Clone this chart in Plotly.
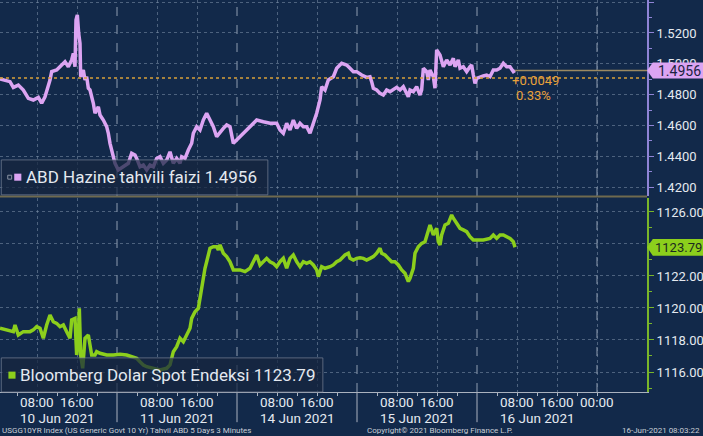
import plotly.graph_objects as go

# ---------------- data ----------------
us10_time = [
    "2021-06-10 00:36", "2021-06-10 02:36", "2021-06-10 03:16", "2021-06-10 04:16", "2021-06-10 05:16",
    "2021-06-10 06:16", "2021-06-10 07:16", "2021-06-10 08:16", "2021-06-10 08:56", "2021-06-10 09:36",
    "2021-06-10 10:36", "2021-06-10 10:56", "2021-06-10 11:56", "2021-06-10 12:56", "2021-06-10 13:36",
    "2021-06-10 14:16", "2021-06-10 14:56", "2021-06-10 15:16", "2021-06-10 15:36", "2021-06-10 15:48",
    "2021-06-10 16:04", "2021-06-10 16:20", "2021-06-10 16:36", "2021-06-10 16:44", "2021-06-10 17:16",
    "2021-06-10 17:36", "2021-06-10 17:56", "2021-06-10 18:16", "2021-06-10 18:36", "2021-06-10 19:16",
    "2021-06-10 19:36", "2021-06-10 20:16", "2021-06-10 20:36", "2021-06-10 21:16", "2021-06-10 21:56",
    "2021-06-10 22:16", "2021-06-10 22:36", "2021-06-10 23:16", "2021-06-10 23:36", "2021-06-11 00:16",
    "2021-06-11 01:16", "2021-06-11 02:16", "2021-06-11 02:56", "2021-06-11 03:36", "2021-06-11 03:56",
    "2021-06-11 04:36", "2021-06-11 05:16", "2021-06-11 05:56", "2021-06-11 06:36", "2021-06-11 07:16",
    "2021-06-11 07:56", "2021-06-11 08:36", "2021-06-11 09:16", "2021-06-11 09:56", "2021-06-11 10:36",
    "2021-06-11 11:16", "2021-06-11 11:56", "2021-06-11 12:36", "2021-06-11 12:56", "2021-06-11 13:36",
    "2021-06-11 14:16", "2021-06-11 14:56", "2021-06-11 15:16", "2021-06-11 15:56", "2021-06-11 16:36",
    "2021-06-11 17:16", "2021-06-11 17:56", "2021-06-11 18:16", "2021-06-11 18:56", "2021-06-11 19:16",
    "2021-06-11 19:56", "2021-06-11 20:36", "2021-06-11 21:16", "2021-06-11 21:56", "2021-06-11 22:36",
    "2021-06-11 23:16", "2021-06-11 23:56", "2021-06-14 00:36", "2021-06-14 01:56", "2021-06-14 03:16",
    "2021-06-14 03:56", "2021-06-14 05:16", "2021-06-14 06:36", "2021-06-14 07:56", "2021-06-14 08:36",
    "2021-06-14 09:16", "2021-06-14 09:56", "2021-06-14 10:36", "2021-06-14 11:16", "2021-06-14 11:56",
    "2021-06-14 12:36", "2021-06-14 13:16", "2021-06-14 13:56", "2021-06-14 14:36", "2021-06-14 15:16",
    "2021-06-14 15:56", "2021-06-14 16:36", "2021-06-14 16:56", "2021-06-14 17:36", "2021-06-14 18:16",
    "2021-06-14 19:16", "2021-06-14 19:56", "2021-06-14 20:56", "2021-06-14 21:56", "2021-06-14 22:36",
    "2021-06-14 23:16", "2021-06-14 23:56", "2021-06-15 00:56", "2021-06-15 01:56", "2021-06-15 02:36",
    "2021-06-15 02:56", "2021-06-15 03:16", "2021-06-15 03:56", "2021-06-15 04:36", "2021-06-15 05:16",
    "2021-06-15 05:56", "2021-06-15 06:36", "2021-06-15 07:16", "2021-06-15 07:56", "2021-06-15 08:36",
    "2021-06-15 09:16", "2021-06-15 09:56", "2021-06-15 10:16", "2021-06-15 10:36", "2021-06-15 11:16",
    "2021-06-15 11:56", "2021-06-15 12:36", "2021-06-15 12:56", "2021-06-15 13:16", "2021-06-15 13:56",
    "2021-06-15 14:16", "2021-06-15 14:36", "2021-06-15 15:16", "2021-06-15 15:36", "2021-06-15 15:48",
    "2021-06-15 15:56", "2021-06-15 16:36", "2021-06-15 17:16", "2021-06-15 17:56", "2021-06-15 18:36",
    "2021-06-15 19:16", "2021-06-15 19:36", "2021-06-15 20:16", "2021-06-15 20:36", "2021-06-15 21:16",
    "2021-06-15 21:56", "2021-06-15 22:36", "2021-06-15 22:56", "2021-06-15 23:16", "2021-06-15 23:36",
    "2021-06-15 23:56", "2021-06-16 00:36", "2021-06-16 01:16", "2021-06-16 01:56", "2021-06-16 02:36",
    "2021-06-16 03:16", "2021-06-16 03:56", "2021-06-16 04:36", "2021-06-16 05:16", "2021-06-16 05:56",
    "2021-06-16 06:36", "2021-06-16 07:16", "2021-06-16 07:36",
]
us10_value = [
    1.4901, 1.4884, 1.4847, 1.4862, 1.4830, 1.4776, 1.4765, 1.4782, 1.4744, 1.4786,
    1.4895, 1.4949, 1.4960, 1.4992, 1.5014, 1.4981, 1.5025, 1.5068, 1.4981, 1.5284,
    1.5317, 1.5198, 1.5133, 1.4916, 1.4960, 1.4895, 1.4916, 1.4841, 1.4830, 1.4744,
    1.4679, 1.4721, 1.4668, 1.4635, 1.4592, 1.4549, 1.4484, 1.4397, 1.4354, 1.4311,
    1.4332, 1.4354, 1.4419, 1.4408, 1.4386, 1.4332, 1.4343, 1.4311, 1.4343, 1.4332,
    1.4386, 1.4397, 1.4354, 1.4375, 1.4429, 1.4354, 1.4386, 1.4354, 1.4397, 1.4386,
    1.4440, 1.4484, 1.4549, 1.4592, 1.4570, 1.4635, 1.4679, 1.4657, 1.4614, 1.4592,
    1.4527, 1.4559, 1.4581, 1.4603, 1.4592, 1.4484, 1.4505, 1.4527, 1.4570, 1.4614,
    1.4635, 1.4624, 1.4614, 1.4614, 1.4570, 1.4549, 1.4614, 1.4570, 1.4635, 1.4581,
    1.4614, 1.4592, 1.4592, 1.4549, 1.4614, 1.4679, 1.4765, 1.4851, 1.4830, 1.4895,
    1.4916, 1.4971, 1.5003, 1.4992, 1.4971, 1.4949, 1.4949, 1.4927, 1.4912, 1.4916,
    1.4884, 1.4841, 1.4830, 1.4808, 1.4797, 1.4830, 1.4819, 1.4830, 1.4847, 1.4830,
    1.4851, 1.4808, 1.4786, 1.4830, 1.4819, 1.4851, 1.4797, 1.4830, 1.4971, 1.4949,
    1.4895, 1.4960, 1.4916, 1.4841, 1.5046, 1.5090, 1.5057, 1.4981, 1.5025, 1.4992,
    1.5036, 1.4981, 1.5025, 1.4971, 1.4981, 1.4949, 1.4981, 1.4992, 1.4927, 1.4873,
    1.4906, 1.4916, 1.4921, 1.4927, 1.4916, 1.4960, 1.4960, 1.4971, 1.5003, 1.4981,
    1.4981, 1.4949, 1.4956,
]

dxy_time = [
    "2021-06-10 00:36", "2021-06-10 01:56", "2021-06-10 03:16", "2021-06-10 03:36", "2021-06-10 04:16",
    "2021-06-10 05:16", "2021-06-10 06:36", "2021-06-10 07:16", "2021-06-10 07:56", "2021-06-10 08:36",
    "2021-06-10 09:16", "2021-06-10 09:56", "2021-06-10 10:36", "2021-06-10 11:16", "2021-06-10 11:56",
    "2021-06-10 12:36", "2021-06-10 13:16", "2021-06-10 13:56", "2021-06-10 14:36", "2021-06-10 14:56",
    "2021-06-10 15:36", "2021-06-10 15:56", "2021-06-10 16:16", "2021-06-10 16:28", "2021-06-10 16:44",
    "2021-06-10 17:08", "2021-06-10 17:36", "2021-06-10 18:16", "2021-06-10 18:36", "2021-06-10 18:56",
    "2021-06-10 19:36", "2021-06-10 19:56", "2021-06-10 20:36", "2021-06-10 21:56", "2021-06-10 23:16",
    "2021-06-11 00:36", "2021-06-11 01:56", "2021-06-11 02:56", "2021-06-11 03:56", "2021-06-11 04:36",
    "2021-06-11 05:16", "2021-06-11 05:56", "2021-06-11 07:16", "2021-06-11 08:36", "2021-06-11 09:56",
    "2021-06-11 10:36", "2021-06-11 11:16", "2021-06-11 11:56", "2021-06-11 12:36", "2021-06-11 13:16",
    "2021-06-11 13:56", "2021-06-11 14:36", "2021-06-11 14:56", "2021-06-11 15:36", "2021-06-11 16:16",
    "2021-06-11 16:36", "2021-06-11 16:56", "2021-06-11 17:16", "2021-06-11 17:36", "2021-06-11 17:56",
    "2021-06-11 18:16", "2021-06-11 18:36", "2021-06-11 19:16", "2021-06-11 19:56", "2021-06-11 20:16",
    "2021-06-11 20:36", "2021-06-11 21:16", "2021-06-11 21:56", "2021-06-11 22:36", "2021-06-11 23:16",
    "2021-06-14 00:36", "2021-06-14 01:36", "2021-06-14 02:36", "2021-06-14 03:16", "2021-06-14 03:56",
    "2021-06-14 04:36", "2021-06-14 05:16", "2021-06-14 05:56", "2021-06-14 06:36", "2021-06-14 07:16",
    "2021-06-14 07:56", "2021-06-14 08:36", "2021-06-14 09:16", "2021-06-14 09:56", "2021-06-14 10:36",
    "2021-06-14 11:16", "2021-06-14 11:56", "2021-06-14 12:36", "2021-06-14 13:16", "2021-06-14 13:56",
    "2021-06-14 14:36", "2021-06-14 15:16", "2021-06-14 15:56", "2021-06-14 16:16", "2021-06-14 16:56",
    "2021-06-14 17:36", "2021-06-14 18:36", "2021-06-14 19:16", "2021-06-14 19:56", "2021-06-14 20:36",
    "2021-06-14 21:36", "2021-06-14 22:16", "2021-06-14 22:36", "2021-06-14 23:16", "2021-06-14 23:56",
    "2021-06-15 00:36", "2021-06-15 01:16", "2021-06-15 01:56", "2021-06-15 02:36", "2021-06-15 03:16",
    "2021-06-15 03:56", "2021-06-15 04:36", "2021-06-15 04:56", "2021-06-15 05:36", "2021-06-15 06:16",
    "2021-06-15 06:56", "2021-06-15 07:36", "2021-06-15 08:16", "2021-06-15 08:56", "2021-06-15 09:36",
    "2021-06-15 10:16", "2021-06-15 10:36", "2021-06-15 11:16", "2021-06-15 11:36", "2021-06-15 12:16",
    "2021-06-15 12:56", "2021-06-15 13:36", "2021-06-15 14:16", "2021-06-15 14:36", "2021-06-15 15:16",
    "2021-06-15 15:56", "2021-06-15 16:16", "2021-06-15 16:36", "2021-06-15 16:56", "2021-06-15 17:36",
    "2021-06-15 18:16", "2021-06-15 18:56", "2021-06-15 19:16", "2021-06-15 19:56", "2021-06-15 20:36",
    "2021-06-15 21:16", "2021-06-15 21:56", "2021-06-15 22:36", "2021-06-15 23:16", "2021-06-15 23:56",
    "2021-06-16 01:16", "2021-06-16 02:36", "2021-06-16 03:16", "2021-06-16 03:56", "2021-06-16 04:36",
    "2021-06-16 05:16", "2021-06-16 05:56", "2021-06-16 06:36", "2021-06-16 07:16", "2021-06-16 07:36",
]
dxy_value = [
    1118.73, 1118.63, 1118.52, 1118.94, 1118.31, 1118.52, 1118.52, 1118.63, 1118.83, 1118.73,
    1118.11, 1118.94, 1119.56, 1119.14, 1119.04, 1118.83, 1118.94, 1118.52, 1118.11, 1119.25,
    1119.35, 1117.06, 1118.11, 1119.98, 1117.06, 1116.23, 1118.11, 1118.31, 1117.48, 1117.06,
    1117.06, 1117.27, 1117.17, 1117.06, 1117.06, 1117.11, 1117.06, 1116.96, 1116.86, 1116.64,
    1116.44, 1116.33, 1116.23, 1116.13, 1116.23, 1116.44, 1117.27, 1117.58, 1118.11, 1117.89,
    1118.31, 1118.73, 1119.35, 1119.77, 1119.98, 1120.61, 1121.23, 1122.06, 1122.48, 1122.89,
    1123.31, 1123.73, 1123.83, 1123.83, 1123.63, 1123.94, 1123.42, 1123.21, 1122.89, 1122.38,
    1122.38, 1122.27, 1122.48, 1122.89, 1123.31, 1122.69, 1122.89, 1123.10, 1122.89, 1122.79,
    1122.58, 1122.89, 1123.10, 1122.48, 1123.10, 1123.31, 1122.89, 1122.58, 1122.89, 1122.79,
    1122.89, 1122.69, 1122.38, 1121.96, 1122.58, 1122.48, 1122.58, 1122.69, 1122.89, 1123.00,
    1123.31, 1123.42, 1123.10, 1123.00, 1123.10, 1123.14, 1123.10, 1123.00, 1123.10, 1123.21,
    1123.42, 1123.73, 1123.42, 1123.31, 1123.10, 1122.89, 1122.89, 1122.69, 1122.38, 1122.17,
    1121.65, 1121.86, 1122.48, 1123.42, 1123.83, 1124.04, 1124.14, 1124.98, 1125.19, 1124.56,
    1124.98, 1124.14, 1123.94, 1124.56, 1125.19, 1125.29, 1125.81, 1125.61, 1125.29, 1124.98,
    1124.88, 1124.77, 1124.46, 1124.25, 1124.25, 1124.25, 1124.35, 1124.56, 1124.35, 1124.56,
    1124.56, 1124.46, 1124.35, 1124.14, 1123.79,
]

us10_name = "ABD Hazine tahvili faizi"
dxy_name = "Bloomberg Dolar Spot Endeksi"
us10_last = 1.4956
dxy_last = 1123.79
us10_prev_close = 1.4907
us10_change_text = "+0.0049"
us10_pct_text = "0.33%"

day_dates = ["2021-06-10", "2021-06-11", "2021-06-14", "2021-06-15", "2021-06-16"]
day_labels = ["10 Jun 2021", "11 Jun 2021", "14 Jun 2021", "15 Jun 2021", "16 Jun 2021"]
hour_tick_vals = [
    "2021-06-10 08:00", "2021-06-10 16:00", "2021-06-11 08:00", "2021-06-11 16:00",
    "2021-06-14 08:00", "2021-06-14 16:00", "2021-06-15 08:00", "2021-06-15 16:00",
    "2021-06-16 08:00", "2021-06-16 16:00", "2021-06-17 00:00",
]
hour_tick_text = ["08:00", "16:00", "08:00", "16:00", "08:00", "16:00",
                  "08:00", "16:00", "08:00", "16:00", "00:00"]
minor_tick_vals = [d + " " + h for d in day_dates for h in ("04:00", "12:00", "20:00")]
day_breaks = ["2021-06-11 00:00", "2021-06-14 00:00", "2021-06-15 00:00",
              "2021-06-16 00:00", "2021-06-17 00:00"]
band_breaks = ["2021-06-11 00:00", "2021-06-14 00:00", "2021-06-15 00:00", "2021-06-16 00:00"]
x_range = ["2021-06-10 00:36", "2021-06-17 10:00"]

us10_ticks = [1.42, 1.44, 1.46, 1.48, 1.50, 1.52, 1.54]
us10_tick_text = ["1.4200", "1.4400", "1.4600", "1.4800", "1.5000", "1.5200", ""]
dxy_ticks = [1116, 1118, 1120, 1122, 1124, 1126]
dxy_tick_text = ["1116.00", "1118.00", "1120.00", "1122.00", "", "1126.00"]
us10_range = [1.4142, 1.5414]
dxy_range = [1114.75, 1126.875]

footer_left = "USGG10YR Index (US Generic Govt 10 Yr) Tahvil ABD 5 Days 3 Minutes"
footer_mid = "Copyright\u00a9 2021 Bloomberg Finance L.P."
footer_right = "16-Jun-2021 08:03:22"

# ---------------- style ----------------
BG = "#12294a"
PINK = "#dca4f2"
GREEN = "#8ccf1c"
TEXT = "#e4e9f0"
GRID = "rgba(125,145,170,0.55)"
FONT = "Roboto"

fig = go.Figure()
fig.add_trace(go.Scatter(x=us10_time, y=us10_value, mode="lines", xaxis="x", yaxis="y",
                         line=dict(color=PINK, width=3.5), hoverinfo="skip", showlegend=False))
fig.add_trace(go.Scatter(x=dxy_time, y=dxy_value, mode="lines", xaxis="x2", yaxis="y2",
                         line=dict(color=GREEN, width=3.5), hoverinfo="skip", showlegend=False))

common_x = dict(type="date", range=x_range, rangebreaks=[dict(bounds=["sat", "mon"])],
                tickmode="array", tickvals=hour_tick_vals, ticktext=hour_tick_text,
                showgrid=True, gridcolor=GRID, griddash="dot", gridwidth=1,
                zeroline=False, fixedrange=True, automargin=False, showticklabels=False)

fig.update_layout(
    width=703, height=436,
    margin=dict(l=0, r=56, t=0, b=44, autoexpand=False),
    paper_bgcolor=BG, plot_bgcolor=BG,
    font=dict(family=FONT, color=TEXT, size=14),
    showlegend=False,
    xaxis=dict(common_x, anchor="y", domain=[0, 1], matches="x2"),
    xaxis2=dict(common_x, anchor="y2", domain=[0, 1], ticks="outside", ticklen=3,
                tickcolor="#aab2bf", showline=True, linecolor="#aab2bf", linewidth=1,
                minor=dict(tickmode="array", tickvals=minor_tick_vals, ticks="outside",
                           ticklen=3, tickcolor="#aab2bf", showgrid=False)),
    yaxis=dict(domain=[0.5, 1], anchor="x", side="right", range=us10_range,
               tickmode="array", tickvals=us10_ticks, ticktext=us10_tick_text,
               showgrid=True, gridcolor=GRID, griddash="dot",
               showline=True, linecolor="#8f84d6", linewidth=2,
               ticks="outside", ticklen=5, tickcolor="#8f84d6",
               minor=dict(ticks="outside", ticklen=3, dtick=0.01, tickcolor="#8f84d6", showgrid=False),
               tickfont=dict(size=13, color=TEXT), zeroline=False, fixedrange=True, automargin=False),
    yaxis2=dict(domain=[0, 0.495], anchor="x2", side="right", range=dxy_range,
                tickmode="array", tickvals=dxy_ticks, ticktext=dxy_tick_text,
                showgrid=True, gridcolor=GRID, griddash="dot",
                showline=True, linecolor="#79b62a", linewidth=2,
                ticks="outside", ticklen=5, tickcolor="#79b62a",
                minor=dict(ticks="outside", ticklen=3, dtick=1, tickcolor="#79b62a", showgrid=False),
                tickfont=dict(size=13, color=TEXT), zeroline=False, fixedrange=True, automargin=False),
)

shapes = []
for d in day_breaks:
    for yr in ("y domain", "y2 domain"):
        shapes.append(dict(type="line", xref="x", yref=yr, x0=d, x1=d, y0=0, y1=1,
                           line=dict(color="rgba(165,178,195,0.85)", width=1, dash="dash"), layer="below"))
for d in band_breaks:
    shapes.append(dict(type="line", xref="x", yref="paper", x0=d, x1=d, y0=-0.077, y1=0,
                       line=dict(color="#aab2bf", width=1)))
shapes.append(dict(type="line", xref="paper", yref="paper", x0=0, x1=1, y0=0.4985, y1=0.4985,
                   line=dict(color="#6f6a4e", width=2)))
shapes.append(dict(type="line", xref="paper", yref="y", x0=0, x1=1, y0=us10_prev_close, y1=us10_prev_close,
                   line=dict(color="#d8a03a", width=1.5, dash="dot")))
shapes.append(dict(type="line", xref="x", yref="y", x0=us10_time[-1], x1=x_range[1], y0=us10_last, y1=us10_last,
                   line=dict(color="#9c8a62", width=1.5)))
shapes.append(dict(type="rect", xref="paper", yref="paper", x0=0.002, x1=0.414, y0=0.503, y1=0.592,
                   fillcolor="rgba(22,38,62,0.72)", line=dict(color="rgba(120,130,150,0.7)", width=1), layer="above"))
shapes.append(dict(type="rect", xref="paper", yref="paper", x0=0.002, x1=0.499, y0=0.0, y1=0.087,
                   fillcolor="rgba(22,38,62,0.72)", line=dict(color="rgba(120,130,150,0.7)", width=1), layer="above"))
shapes.append(dict(type="rect", xref="paper", yref="paper", x0=0.012, x1=0.018, y0=0.543, y1=0.553,
                   fillcolor="rgba(0,0,0,0)", line=dict(color="#8a93a3", width=1), layer="above"))
shapes.append(dict(type="rect", xref="paper", yref="paper", x0=0.022, x1=0.033, y0=0.539, y1=0.557,
                   fillcolor=PINK, line=dict(width=0), layer="above"))
shapes.append(dict(type="rect", xref="paper", yref="paper", x0=0.013, x1=0.024, y0=0.034, y1=0.052,
                   fillcolor=GREEN, line=dict(width=0), layer="above"))
h1 = 0.0052
shapes.append(dict(type="path", xref="paper", yref="y",
                   path=f"M 1.0,{us10_last} L 1.009,{us10_last + h1} L 1.09,{us10_last + h1} "
                        f"L 1.09,{us10_last - h1} L 1.009,{us10_last - h1} Z",
                   fillcolor=PINK, line=dict(width=0), layer="above"))
h2 = 0.52
shapes.append(dict(type="path", xref="paper", yref="y2",
                   path=f"M 1.0,{dxy_last} L 1.009,{dxy_last + h2} L 1.09,{dxy_last + h2} "
                        f"L 1.09,{dxy_last - h2} L 1.009,{dxy_last - h2} Z",
                   fillcolor=GREEN, line=dict(width=0), layer="above"))
fig.update_layout(shapes=shapes)

ann = []
ann.append(dict(xref="paper", yref="y", x=1.014, y=us10_last, text=f"{us10_last:.4f}", showarrow=False,
                xanchor="left", yanchor="middle", font=dict(size=14, color="#1b2340")))
ann.append(dict(xref="paper", yref="y2", x=1.010, y=dxy_last, text=f"{dxy_last:.2f}", showarrow=False,
                xanchor="left", yanchor="middle", font=dict(size=13, color="#1b2a20")))
ann.append(dict(xref="x", yref="y", x=us10_time[-1], y=us10_prev_close, text=us10_change_text, showarrow=False,
                xanchor="left", yanchor="middle", xshift=-5, yshift=-2, font=dict(size=13, color="#e9a13a")))
ann.append(dict(xref="x", yref="y", x=us10_time[-1], y=us10_prev_close, text=us10_pct_text, showarrow=False,
                xanchor="left", yanchor="middle", xshift=-1, yshift=-17, font=dict(size=13, color="#e9a13a")))
ann.append(dict(xref="paper", yref="paper", x=0.037, y=0.548, text=f"{us10_name} {us10_last:.4f}",
                showarrow=False, xanchor="left", yanchor="middle", font=dict(size=17, color=TEXT)))
ann.append(dict(xref="paper", yref="paper", x=0.028, y=0.043, text=f"{dxy_name} {dxy_last:.2f}",
                showarrow=False, xanchor="left", yanchor="middle", font=dict(size=17, color=TEXT)))
for tv, tt in zip(hour_tick_vals, hour_tick_text):
    ann.append(dict(xref="x2", yref="paper", x=tv, y=-0.0255, text=tt, showarrow=False, borderpad=0,
                    xanchor="center", yanchor="middle", font=dict(size=13.5, color=TEXT)))
for d, lab in zip(day_dates, day_labels):
    ann.append(dict(xref="x2", yref="paper", x=d + " 12:00", y=-0.0665, text=lab, showarrow=False, borderpad=0,
                    xanchor="center", yanchor="middle", font=dict(size=13.5, color=TEXT)))
ann.append(dict(xref="paper", yref="paper", x=0.002, y=-0.098, text=footer_left, showarrow=False, borderpad=0,
                xanchor="left", yanchor="middle", font=dict(size=8, color="#c9ced6")))
ann.append(dict(xref="paper", yref="paper", x=0.68, y=-0.098, text=footer_mid, showarrow=False, borderpad=0,
                xanchor="center", yanchor="middle", font=dict(size=8, color="#c9ced6")))
ann.append(dict(xref="paper", yref="paper", x=1.083, y=-0.098, text=footer_right, showarrow=False, borderpad=0,
                xanchor="right", yanchor="middle", font=dict(size=8, color="#c9ced6")))
fig.update_layout(annotations=ann)

fig.write_html("out.html", config={"displayModeBar": False},
               post_script="document.body.style.margin='0';document.body.style.padding='0';")
